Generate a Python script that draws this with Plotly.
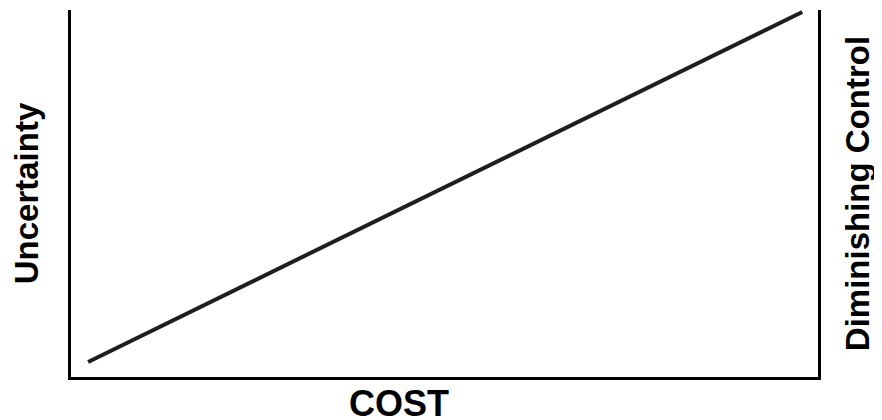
import plotly.graph_objects as go

cost = [0, 100]
uncertainty = [0, 100]

x_title = "COST"
y_title = "Uncertainty"
y2_title = "Diminishing Control"

FONT = "Liberation Sans, Arial, sans-serif"

fig = go.Figure()
fig.add_trace(go.Scatter(x=cost, y=uncertainty, mode="lines",
                         line=dict(color="#1e1e1e", width=4), showlegend=False,
                         hoverinfo="skip"))
# invisible trace for right axis
fig.add_trace(go.Scatter(x=cost, y=uncertainty, yaxis="y2", mode="lines",
                         line=dict(color="rgba(0,0,0,0)", width=0), showlegend=False,
                         hoverinfo="skip"))

axis_common = dict(showgrid=False, zeroline=False, showticklabels=False, ticks="",
                   showline=True, linecolor="black", linewidth=3, automargin=False)

# page body has an 8px default margin, so the figure is offset by 8px
fig.update_layout(
    width=874, height=412,
    margin=dict(l=63, r=64, t=2, b=43),
    paper_bgcolor="white", plot_bgcolor="white",
    font=dict(family=FONT, color="black"),
    xaxis=dict(range=[-2.39, 102.2], **axis_common),
    yaxis=dict(range=[-4.29, 100.57], title=dict(text=y_title, font=dict(size=33, weight="bold"), standoff=22),
               **axis_common),
    yaxis2=dict(range=[-4.29, 100.57], overlaying="y", side="right",
                title=dict(text=y2_title, font=dict(size=33, weight="bold"), standoff=26),
                **axis_common),
    annotations=[dict(text=x_title, xref="paper", yref="paper", x=0.439, y=0,
                      xanchor="center", yanchor="middle", yshift=-26, showarrow=False,
                      font=dict(size=36, weight="bold", family=FONT, color="black"))],
)

fig.write_html("out.html")
